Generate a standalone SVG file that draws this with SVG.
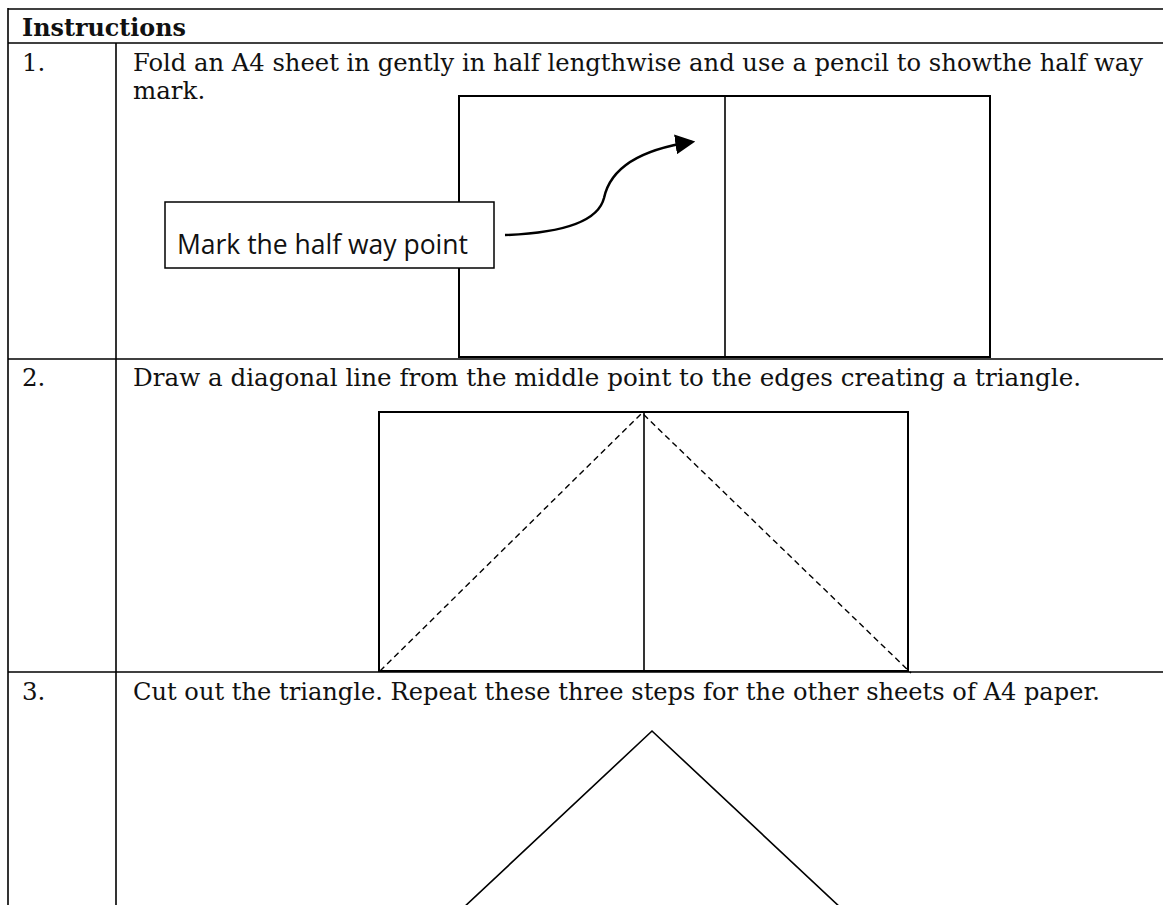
<svg xmlns="http://www.w3.org/2000/svg" width="1163" height="905" viewBox="0 0 1163 905">
<style>
.grid{stroke:#000;stroke-width:1.6;fill:none}
.body{font-family:"DejaVu Serif","Liberation Serif",serif;font-size:24.5px;fill:#111}
.head{font-family:"DejaVu Serif","Liberation Serif",serif;font-size:24px;font-weight:bold;fill:#111}
.sheet{stroke:#000;stroke-width:2;fill:none}
.fold{stroke:#000;stroke-width:1.6}
.dash{stroke:#000;stroke-width:1.4;stroke-dasharray:6 4;fill:none}
.label{font-family:"Open Sans","Noto Sans","Liberation Sans",sans-serif;font-size:26.5px;fill:#111}
</style>
<defs>
<marker id="arrow" markerWidth="8" markerHeight="8" refX="5" refY="3" orient="auto" markerUnits="strokeWidth" viewBox="0 0 6 6">
<path d="M0,0 L6,3 L0,6 Z" fill="#000"/>
</marker>
</defs>
<rect width="1163" height="905" fill="#fff"/>
<g id="table">
<line class="grid" x1="8" y1="9" x2="1163" y2="9"/>
<line class="grid" x1="8" y1="43" x2="1163" y2="43"/>
<line class="grid" x1="8" y1="359" x2="1163" y2="359"/>
<line class="grid" x1="8" y1="672" x2="1163" y2="672"/>
<line class="grid" x1="8" y1="8" x2="8" y2="905"/>
<line class="grid" x1="116" y1="43" x2="116" y2="905"/>
<text class="head" x="22" y="36" textLength="164" lengthAdjust="spacingAndGlyphs">Instructions</text>
</g>
<g id="step1">
<text class="body" x="22" y="70.5">1.</text>
<text class="body" x="133" y="70.5" textLength="1010" lengthAdjust="spacingAndGlyphs">Fold an A4 sheet in gently in half lengthwise and use a pencil to showthe half way</text>
<text class="body" x="133" y="98.5">mark.</text>
<rect class="sheet" x="459" y="96" width="531" height="261"/>
<line class="fold" x1="725" y1="96" x2="725" y2="357"/>
</g>
<g id="callout">
<rect x="165" y="202" width="329" height="66" fill="#fff" stroke="#000" stroke-width="1.5"/>
<text class="label" x="177" y="254" textLength="291" lengthAdjust="spacingAndGlyphs">Mark the half way point</text>
</g>
<g id="step2">
<text class="body" x="22" y="385.5">2.</text>
<text class="body" x="133" y="385.5" textLength="948" lengthAdjust="spacingAndGlyphs">Draw a diagonal line from the middle point to the edges creating a triangle.</text>
<rect class="sheet" x="379" y="412" width="529" height="259"/>
<line class="fold" x1="644" y1="412" x2="644" y2="671"/>
<polyline class="dash" points="380,671 642,413 911,673"/>
</g>
<g id="step3">
<text class="body" x="22" y="700">3.</text>
<text class="body" x="133" y="700" textLength="967" lengthAdjust="spacingAndGlyphs">Cut out the triangle. Repeat these three steps for the other sheets of A4 paper.</text>
<polyline points="462,909 652,731 842,909" fill="none" stroke="#000" stroke-width="1.6"/>
</g>
<g id="connectors">
<path d="M505,235 C562,233 598,222 604,198 C610,170 636,150 692,142" fill="none" stroke="#000" stroke-width="2.5" marker-end="url(#arrow)"/>
</g>
</svg>
